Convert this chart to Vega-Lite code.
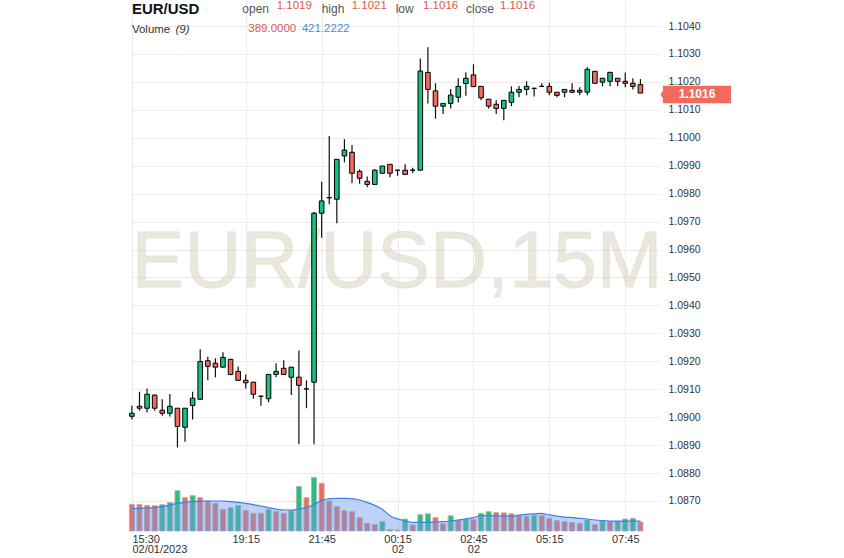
{
"$schema":"https://vega.github.io/schema/vega-lite/v6.json",
"width":530,"height":531,"autosize":"none",
"padding":{"left":130,"top":0,"right":184,"bottom":27},
"background":"white",
"config":{"view":{"stroke":null},"font":"Liberation Sans","axis":{"labelOverlap":false}},
"datasets":{"candles":[
{"t":"2023-02-01T15:30:00Z","o":1.09003,"h":1.09041,"l":1.08992,"c":1.09014,"v":1147,"vd":"down","ma":960},
{"t":"2023-02-01T15:45:00Z","o":1.09039,"h":1.09091,"l":1.09023,"c":1.09032,"v":1147,"vd":"down","ma":974},
{"t":"2023-02-01T16:00:00Z","o":1.09032,"h":1.09103,"l":1.09017,"c":1.09082,"v":1103,"vd":"down","ma":989},
{"t":"2023-02-01T16:15:00Z","o":1.09079,"h":1.09081,"l":1.09023,"c":1.09032,"v":1089,"vd":"down","ma":1003},
{"t":"2023-02-01T16:30:00Z","o":1.09025,"h":1.09064,"l":1.09005,"c":1.09014,"v":1132,"vd":"up","ma":1046},
{"t":"2023-02-01T16:45:00Z","o":1.09014,"h":1.09083,"l":1.09002,"c":1.09039,"v":1218,"vd":"up","ma":1118},
{"t":"2023-02-01T17:00:00Z","o":1.09032,"h":1.09033,"l":1.08892,"c":1.08967,"v":1734,"vd":"up","ma":1189},
{"t":"2023-02-01T17:15:00Z","o":1.08964,"h":1.09033,"l":1.08912,"c":1.09032,"v":1433,"vd":"down","ma":1232},
{"t":"2023-02-01T17:30:00Z","o":1.09042,"h":1.09091,"l":1.08992,"c":1.09068,"v":1519,"vd":"up","ma":1261},
{"t":"2023-02-01T17:45:00Z","o":1.09064,"h":1.09243,"l":1.09063,"c":1.09199,"v":1433,"vd":"down","ma":1275},
{"t":"2023-02-01T18:00:00Z","o":1.09202,"h":1.09216,"l":1.09132,"c":1.09182,"v":1290,"vd":"down","ma":1290},
{"t":"2023-02-01T18:15:00Z","o":1.09193,"h":1.09211,"l":1.09143,"c":1.09179,"v":1190,"vd":"down","ma":1290},
{"t":"2023-02-01T18:30:00Z","o":1.09179,"h":1.09232,"l":1.09178,"c":1.09214,"v":931,"vd":"down","ma":1290},
{"t":"2023-02-01T18:45:00Z","o":1.09207,"h":1.09209,"l":1.0915,"c":1.09153,"v":1003,"vd":"up","ma":1261},
{"t":"2023-02-01T19:00:00Z","o":1.09164,"h":1.09181,"l":1.0913,"c":1.09132,"v":1089,"vd":"up","ma":1232},
{"t":"2023-02-01T19:15:00Z","o":1.09132,"h":1.09153,"l":1.09103,"c":1.09123,"v":874,"vd":"down","ma":1189},
{"t":"2023-02-01T19:30:00Z","o":1.09125,"h":1.09127,"l":1.09066,"c":1.09082,"v":760,"vd":"down","ma":1132},
{"t":"2023-02-01T19:45:00Z","o":1.09075,"h":1.09076,"l":1.09041,"c":1.09075,"v":760,"vd":"down","ma":1075},
{"t":"2023-02-01T20:00:00Z","o":1.09066,"h":1.09155,"l":1.09053,"c":1.09153,"v":931,"vd":"up","ma":1003},
{"t":"2023-02-01T20:15:00Z","o":1.09153,"h":1.09193,"l":1.09143,"c":1.09164,"v":845,"vd":"down","ma":946},
{"t":"2023-02-01T20:30:00Z","o":1.09175,"h":1.09204,"l":1.09152,"c":1.09153,"v":760,"vd":"down","ma":903},
{"t":"2023-02-01T20:45:00Z","o":1.09143,"h":1.0918,"l":1.09079,"c":1.09179,"v":874,"vd":"up","ma":903},
{"t":"2023-02-01T21:00:00Z","o":1.09143,"h":1.09239,"l":1.08903,"c":1.09114,"v":1920,"vd":"up","ma":946},
{"t":"2023-02-01T21:15:00Z","o":1.09101,"h":1.09132,"l":1.09032,"c":1.09101,"v":1433,"vd":"down","ma":1003},
{"t":"2023-02-01T21:30:00Z","o":1.09125,"h":1.09735,"l":1.08903,"c":1.0973,"v":2307,"vd":"up","ma":1146},
{"t":"2023-02-01T21:45:00Z","o":1.0973,"h":1.09843,"l":1.09642,"c":1.09774,"v":2049,"vd":"down","ma":1304},
{"t":"2023-02-01T22:00:00Z","o":1.09785,"h":1.10006,"l":1.09762,"c":1.09786,"v":1290,"vd":"down","ma":1390},
{"t":"2023-02-01T22:15:00Z","o":1.0978,"h":1.09923,"l":1.09694,"c":1.09923,"v":1046,"vd":"down","ma":1404},
{"t":"2023-02-01T22:30:00Z","o":1.09935,"h":1.09995,"l":1.09912,"c":1.09956,"v":874,"vd":"down","ma":1404},
{"t":"2023-02-01T22:45:00Z","o":1.09948,"h":1.09974,"l":1.09837,"c":1.09873,"v":831,"vd":"down","ma":1390},
{"t":"2023-02-01T23:00:00Z","o":1.0988,"h":1.09887,"l":1.09835,"c":1.09855,"v":573,"vd":"down","ma":1333},
{"t":"2023-02-01T23:15:00Z","o":1.09844,"h":1.09861,"l":1.09823,"c":1.09833,"v":330,"vd":"down","ma":1232},
{"t":"2023-02-01T23:30:00Z","o":1.09833,"h":1.09887,"l":1.09833,"c":1.09884,"v":275,"vd":"down","ma":1100},
{"t":"2023-02-01T23:45:00Z","o":1.09873,"h":1.09899,"l":1.09873,"c":1.09899,"v":401,"vd":"up","ma":930},
{"t":"2023-02-02T00:00:00Z","o":1.09905,"h":1.09905,"l":1.09859,"c":1.09873,"v":60,"vd":"down","ma":660},
{"t":"2023-02-02T00:15:00Z","o":1.09884,"h":1.09884,"l":1.09864,"c":1.09884,"v":45,"vd":"down","ma":520},
{"t":"2023-02-02T00:30:00Z","o":1.09884,"h":1.09905,"l":1.09869,"c":1.09869,"v":516,"vd":"up","ma":430},
{"t":"2023-02-02T00:45:00Z","o":1.09884,"h":1.09893,"l":1.09873,"c":1.09884,"v":258,"vd":"down","ma":373},
{"t":"2023-02-02T01:00:00Z","o":1.09884,"h":1.10284,"l":1.09883,"c":1.10239,"v":700,"vd":"up","ma":373},
{"t":"2023-02-02T01:15:00Z","o":1.10234,"h":1.10324,"l":1.10123,"c":1.10173,"v":740,"vd":"up","ma":373},
{"t":"2023-02-02T01:30:00Z","o":1.10168,"h":1.10195,"l":1.10068,"c":1.10113,"v":573,"vd":"down","ma":387},
{"t":"2023-02-02T01:45:00Z","o":1.10113,"h":1.10124,"l":1.10085,"c":1.10123,"v":308,"vd":"down","ma":401},
{"t":"2023-02-02T02:00:00Z","o":1.10123,"h":1.10175,"l":1.10105,"c":1.10153,"v":652,"vd":"up","ma":430},
{"t":"2023-02-02T02:15:00Z","o":1.10145,"h":1.10213,"l":1.10126,"c":1.10184,"v":466,"vd":"down","ma":473},
{"t":"2023-02-02T02:30:00Z","o":1.10194,"h":1.10234,"l":1.1015,"c":1.10213,"v":516,"vd":"up","ma":516},
{"t":"2023-02-02T02:45:00Z","o":1.10225,"h":1.10263,"l":1.10183,"c":1.10183,"v":487,"vd":"down","ma":573},
{"t":"2023-02-02T03:00:00Z","o":1.10184,"h":1.10185,"l":1.10134,"c":1.10143,"v":760,"vd":"up","ma":659},
{"t":"2023-02-02T03:15:00Z","o":1.10138,"h":1.10139,"l":1.10105,"c":1.10113,"v":831,"vd":"up","ma":660},
{"t":"2023-02-02T03:30:00Z","o":1.1012,"h":1.10134,"l":1.10085,"c":1.10105,"v":788,"vd":"down","ma":650},
{"t":"2023-02-02T03:45:00Z","o":1.10105,"h":1.10134,"l":1.10063,"c":1.10134,"v":780,"vd":"down","ma":640},
{"t":"2023-02-02T04:00:00Z","o":1.10127,"h":1.10184,"l":1.10113,"c":1.10163,"v":740,"vd":"down","ma":640},
{"t":"2023-02-02T04:15:00Z","o":1.10163,"h":1.10185,"l":1.10145,"c":1.10173,"v":659,"vd":"down","ma":680},
{"t":"2023-02-02T04:30:00Z","o":1.10173,"h":1.10202,"l":1.10152,"c":1.10184,"v":616,"vd":"down","ma":717},
{"t":"2023-02-02T04:45:00Z","o":1.10177,"h":1.10178,"l":1.10148,"c":1.10177,"v":680,"vd":"up","ma":740},
{"t":"2023-02-02T05:00:00Z","o":1.10184,"h":1.10195,"l":1.10183,"c":1.10184,"v":659,"vd":"down","ma":760},
{"t":"2023-02-02T05:15:00Z","o":1.10184,"h":1.10197,"l":1.10152,"c":1.10163,"v":545,"vd":"down","ma":690},
{"t":"2023-02-02T05:30:00Z","o":1.10163,"h":1.10163,"l":1.10145,"c":1.10152,"v":444,"vd":"down","ma":645},
{"t":"2023-02-02T05:45:00Z","o":1.10163,"h":1.10173,"l":1.10145,"c":1.10173,"v":401,"vd":"down","ma":600},
{"t":"2023-02-02T06:00:00Z","o":1.1017,"h":1.10195,"l":1.10159,"c":1.10163,"v":358,"vd":"down","ma":573},
{"t":"2023-02-02T06:15:00Z","o":1.10163,"h":1.10181,"l":1.10152,"c":1.1017,"v":330,"vd":"down","ma":545},
{"t":"2023-02-02T06:30:00Z","o":1.10163,"h":1.10252,"l":1.10152,"c":1.10245,"v":473,"vd":"up","ma":516},
{"t":"2023-02-02T06:45:00Z","o":1.10238,"h":1.10239,"l":1.10195,"c":1.10195,"v":287,"vd":"down","ma":473},
{"t":"2023-02-02T07:00:00Z","o":1.10199,"h":1.10213,"l":1.10184,"c":1.10213,"v":430,"vd":"up","ma":445},
{"t":"2023-02-02T07:15:00Z","o":1.10202,"h":1.10236,"l":1.10184,"c":1.10234,"v":401,"vd":"down","ma":430},
{"t":"2023-02-02T07:30:00Z","o":1.10213,"h":1.10214,"l":1.10184,"c":1.10202,"v":410,"vd":"up","ma":425},
{"t":"2023-02-02T07:45:00Z","o":1.10202,"h":1.10234,"l":1.10181,"c":1.10195,"v":516,"vd":"up","ma":423},
{"t":"2023-02-02T08:00:00Z","o":1.10195,"h":1.10213,"l":1.10173,"c":1.10184,"v":545,"vd":"up","ma":421},
{"t":"2023-02-02T08:15:00Z","o":1.1019,"h":1.1021,"l":1.1016,"c":1.1016,"v":389,"vd":"down","ma":421.2222}
]},
"layer":[
{"data":{"name":"candles"},
 "layer":[
  {"mark":{"type":"bar","size":5,"stroke":"#b3b3b3","strokeWidth":1},
   "encoding":{
    "x":{"field":"t","type":"temporal","scale":{"type":"utc","padding":0,"domain":[{"year":2023,"month":2,"date":1,"hours":15,"minutes":26,"seconds":15,"utc":true},{"year":2023,"month":2,"date":2,"hours":8,"minutes":53,"seconds":40,"utc":true}]}},
    "y":{"field":"v","type":"quantitative","scale":{"domain":[0,22833],"nice":false,"padding":0},"axis":null},
    "fill":{"field":"vd","type":"nominal","scale":{"domain":["up","down"],"range":["#22c27c","#f06a5e"]},"legend":null}}},
  {"mark":{"type":"area","color":"#6d9be8","fillOpacity":0.45,"interpolate":"monotone","line":{"color":"#3f7fe6","strokeWidth":1.2}},
   "encoding":{
    "x":{"field":"t","type":"temporal","scale":{"type":"utc","padding":0,"domain":[{"year":2023,"month":2,"date":1,"hours":15,"minutes":26,"seconds":15,"utc":true},{"year":2023,"month":2,"date":2,"hours":8,"minutes":53,"seconds":40,"utc":true}]}},
    "y":{"field":"ma","type":"quantitative","scale":{"domain":[0,22833],"nice":false,"padding":0},"axis":null}}}
 ]},
{"layer":[
  {"data":{"values":[{}]},
   "mark":{"type":"text","text":"EUR/USD,15M","fontSize":79,"align":"center","baseline":"alphabetic","color":"#d6ccb5","opacity":0.45,"stroke":"#c9bfa6","strokeWidth":0.8},
   "encoding":{
    "x":{"datum":{"year":2023,"month":2,"date":2,"hours":0,"minutes":14,"utc":true},"type":"temporal","scale":{"type":"utc","padding":0,"domain":[{"year":2023,"month":2,"date":1,"hours":15,"minutes":26,"seconds":15,"utc":true},{"year":2023,"month":2,"date":2,"hours":8,"minutes":53,"seconds":40,"utc":true}]}},
    "y":{"datum":1.094659,"type":"quantitative","scale":{"domain":[1.085926,1.104931],"zero":false,"nice":false,"padding":0}}}},
  {"data":{"name":"candles"},
   "mark":{"type":"rule","color":"#111111","strokeWidth":1.2},
   "encoding":{
    "x":{"field":"t","type":"temporal","scale":{"type":"utc","padding":0,"domain":[{"year":2023,"month":2,"date":1,"hours":15,"minutes":26,"seconds":15,"utc":true},{"year":2023,"month":2,"date":2,"hours":8,"minutes":53,"seconds":40,"utc":true}]}},
    "y":{"field":"l","type":"quantitative","scale":{"domain":[1.085926,1.104931],"zero":false,"nice":false,"padding":0}},
    "y2":{"field":"h"}}},
  {"data":{"name":"candles"},
   "mark":{"type":"bar","size":4.6,"stroke":"#000000","strokeWidth":1},
   "encoding":{
    "x":{"field":"t","type":"temporal","scale":{"type":"utc","padding":0,"domain":[{"year":2023,"month":2,"date":1,"hours":15,"minutes":26,"seconds":15,"utc":true},{"year":2023,"month":2,"date":2,"hours":8,"minutes":53,"seconds":40,"utc":true}]},
     "axis":{"title":null,"tickCount":20,"values":[{"year":2023,"month":2,"date":1,"hours":15,"minutes":30,"utc":true},{"year":2023,"month":2,"date":1,"hours":19,"minutes":15,"utc":true},{"year":2023,"month":2,"date":1,"hours":21,"minutes":45,"utc":true},{"year":2023,"month":2,"date":2,"hours":0,"minutes":15,"utc":true},{"year":2023,"month":2,"date":2,"hours":2,"minutes":45,"utc":true},{"year":2023,"month":2,"date":2,"hours":5,"minutes":15,"utc":true},{"year":2023,"month":2,"date":2,"hours":7,"minutes":45,"utc":true}],
      "labelExpr":"[utcFormat(datum.value, '%H:%M'), utchours(datum.value) == 15 ? '02/01/2023' : (utchours(datum.value) < 4 ? '02' : '')]",
      "grid":true,"gridColor":"#ebebeb","ticks":false,"domain":false,"labelPadding":2,"labelFontSize":11,"labelColor":"#333333","labelFont":"Liberation Sans","labelLineHeight":10.5,"labelFlush":5,"labelOverlap":false,"labelBaseline":"top"}},
    "y":{"field":"o","type":"quantitative","scale":{"domain":[1.085926,1.104931],"zero":false,"nice":false,"padding":0},
     "axis":{"title":null,"orient":"right","tickCount":40,"values":[1.087,1.088,1.089,1.09,1.091,1.092,1.093,1.094,1.095,1.096,1.097,1.098,1.099,1.1,1.101,1.102,1.103,1.104],"format":".4f","grid":true,"gridColor":"#ebebeb","ticks":false,"domain":false,"labelPadding":8,"labelFontSize":10.5,"labelColor":"#333333","labelFont":"Liberation Sans","labelOverlap":false,"labelBound":false}},
    "y2":{"field":"c"},
    "fill":{"condition":{"test":"datum.c >= datum.o","value":"#19c27c"},"value":"#f26b5e"}}},
  {"data":{"values":[{}]},
   "mark":{"type":"point","shape":"M-0.944,-0.242L0.944,-0.242L0.944,0.242L-0.944,0.242L-0.944,0.11L-1.014,0L-0.944,-0.11Z","size":5184,"filled":true,"fill":"#f36a5d","opacity":1,"strokeWidth":0},
   "encoding":{
    "x":{"datum":{"year":2023,"month":2,"date":2,"hours":10,"minutes":6,"seconds":48,"utc":true},"type":"temporal","scale":{"type":"utc","padding":0,"domain":[{"year":2023,"month":2,"date":1,"hours":15,"minutes":26,"seconds":15,"utc":true},{"year":2023,"month":2,"date":2,"hours":8,"minutes":53,"seconds":40,"utc":true}]}},
    "y":{"datum":1.10155,"type":"quantitative","scale":{"domain":[1.085926,1.104931],"zero":false,"nice":false,"padding":0}}}},
  {"data":{"values":[{}]},
   "mark":{"type":"text","text":"1.1016","fontSize":12,"fontWeight":"bold","color":"#ffffff","align":"center","baseline":"middle"},
   "encoding":{
    "x":{"datum":{"year":2023,"month":2,"date":2,"hours":10,"minutes":6,"seconds":48,"utc":true},"type":"temporal","scale":{"type":"utc","padding":0,"domain":[{"year":2023,"month":2,"date":1,"hours":15,"minutes":26,"seconds":15,"utc":true},{"year":2023,"month":2,"date":2,"hours":8,"minutes":53,"seconds":40,"utc":true}]}},
    "y":{"datum":1.10155,"type":"quantitative","scale":{"domain":[1.085926,1.104931],"zero":false,"nice":false,"padding":0}}}},
  {"data":{"values":[{}]},
   "mark":{"type":"text","text":"EUR/USD","fontSize":15,"fontWeight":"bold","color":"#111111","align":"left","baseline":"alphabetic"},
   "encoding":{
    "x":{"datum":{"year":2023,"month":2,"date":1,"hours":15,"minutes":30,"utc":true},"type":"temporal","scale":{"type":"utc","padding":0,"domain":[{"year":2023,"month":2,"date":1,"hours":15,"minutes":26,"seconds":15,"utc":true},{"year":2023,"month":2,"date":2,"hours":8,"minutes":53,"seconds":40,"utc":true}]}},
    "y":{"datum":1.104447,"type":"quantitative","scale":{"domain":[1.085926,1.104931],"zero":false,"nice":false,"padding":0}}}},
  {"data":{"values":[{}]},
   "mark":{"type":"text","text":"Volume","fontSize":11.5,"color":"#333333","align":"left","baseline":"alphabetic"},
   "encoding":{
    "x":{"datum":{"year":2023,"month":2,"date":1,"hours":15,"minutes":30,"utc":true},"type":"temporal","scale":{"type":"utc","padding":0,"domain":[{"year":2023,"month":2,"date":1,"hours":15,"minutes":26,"seconds":15,"utc":true},{"year":2023,"month":2,"date":2,"hours":8,"minutes":53,"seconds":40,"utc":true}]}},
    "y":{"datum":1.103739,"type":"quantitative","scale":{"domain":[1.085926,1.104931],"zero":false,"nice":false,"padding":0}}}},
  {"data":{"values":[{}]},
   "mark":{"type":"text","text":"(9)","fontSize":11.5,"fontStyle":"italic","color":"#333333","align":"left","baseline":"alphabetic"},
   "encoding":{
    "x":{"datum":{"year":2023,"month":2,"date":1,"hours":16,"minutes":56,"seconds":10,"utc":true},"type":"temporal","scale":{"type":"utc","padding":0,"domain":[{"year":2023,"month":2,"date":1,"hours":15,"minutes":26,"seconds":15,"utc":true},{"year":2023,"month":2,"date":2,"hours":8,"minutes":53,"seconds":40,"utc":true}]}},
    "y":{"datum":1.103739,"type":"quantitative","scale":{"domain":[1.085926,1.104931],"zero":false,"nice":false,"padding":0}}}},
  {"data":{"values":[{}]},
   "mark":{"type":"text","text":"open","fontSize":12,"color":"#555555","align":"left","baseline":"alphabetic"},
   "encoding":{
    "x":{"datum":{"year":2023,"month":2,"date":1,"hours":19,"minutes":8,"seconds":12,"utc":true},"type":"temporal","scale":{"type":"utc","padding":0,"domain":[{"year":2023,"month":2,"date":1,"hours":15,"minutes":26,"seconds":15,"utc":true},{"year":2023,"month":2,"date":2,"hours":8,"minutes":53,"seconds":40,"utc":true}]}},
    "y":{"datum":1.104483,"type":"quantitative","scale":{"domain":[1.085926,1.104931],"zero":false,"nice":false,"padding":0}}}},
  {"data":{"values":[{}]},
   "mark":{"type":"text","text":"1.1019","fontSize":11.5,"color":"#e0574d","align":"left","baseline":"alphabetic"},
   "encoding":{
    "x":{"datum":{"year":2023,"month":2,"date":1,"hours":20,"minutes":16,"seconds":10,"utc":true},"type":"temporal","scale":{"type":"utc","padding":0,"domain":[{"year":2023,"month":2,"date":1,"hours":15,"minutes":26,"seconds":15,"utc":true},{"year":2023,"month":2,"date":2,"hours":8,"minutes":53,"seconds":40,"utc":true}]}},
    "y":{"datum":1.104598,"type":"quantitative","scale":{"domain":[1.085926,1.104931],"zero":false,"nice":false,"padding":0}}}},
  {"data":{"values":[{}]},
   "mark":{"type":"text","text":"high","fontSize":12,"color":"#555555","align":"left","baseline":"alphabetic"},
   "encoding":{
    "x":{"datum":{"year":2023,"month":2,"date":1,"hours":21,"minutes":45,"seconds":6,"utc":true},"type":"temporal","scale":{"type":"utc","padding":0,"domain":[{"year":2023,"month":2,"date":1,"hours":15,"minutes":26,"seconds":15,"utc":true},{"year":2023,"month":2,"date":2,"hours":8,"minutes":53,"seconds":40,"utc":true}]}},
    "y":{"datum":1.104483,"type":"quantitative","scale":{"domain":[1.085926,1.104931],"zero":false,"nice":false,"padding":0}}}},
  {"data":{"values":[{}]},
   "mark":{"type":"text","text":"1.1021","fontSize":11.5,"color":"#e0574d","align":"left","baseline":"alphabetic"},
   "encoding":{
    "x":{"datum":{"year":2023,"month":2,"date":1,"hours":22,"minutes":44,"seconds":24,"utc":true},"type":"temporal","scale":{"type":"utc","padding":0,"domain":[{"year":2023,"month":2,"date":1,"hours":15,"minutes":26,"seconds":15,"utc":true},{"year":2023,"month":2,"date":2,"hours":8,"minutes":53,"seconds":40,"utc":true}]}},
    "y":{"datum":1.104598,"type":"quantitative","scale":{"domain":[1.085926,1.104931],"zero":false,"nice":false,"padding":0}}}},
  {"data":{"values":[{}]},
   "mark":{"type":"text","text":"low","fontSize":12,"color":"#555555","align":"left","baseline":"alphabetic"},
   "encoding":{
    "x":{"datum":{"year":2023,"month":2,"date":2,"hours":0,"minutes":11,"seconds":20,"utc":true},"type":"temporal","scale":{"type":"utc","padding":0,"domain":[{"year":2023,"month":2,"date":1,"hours":15,"minutes":26,"seconds":15,"utc":true},{"year":2023,"month":2,"date":2,"hours":8,"minutes":53,"seconds":40,"utc":true}]}},
    "y":{"datum":1.104483,"type":"quantitative","scale":{"domain":[1.085926,1.104931],"zero":false,"nice":false,"padding":0}}}},
  {"data":{"values":[{}]},
   "mark":{"type":"text","text":"1.1016","fontSize":11.5,"color":"#e0574d","align":"left","baseline":"alphabetic"},
   "encoding":{
    "x":{"datum":{"year":2023,"month":2,"date":2,"hours":1,"minutes":5,"seconds":18,"utc":true},"type":"temporal","scale":{"type":"utc","padding":0,"domain":[{"year":2023,"month":2,"date":1,"hours":15,"minutes":26,"seconds":15,"utc":true},{"year":2023,"month":2,"date":2,"hours":8,"minutes":53,"seconds":40,"utc":true}]}},
    "y":{"datum":1.104598,"type":"quantitative","scale":{"domain":[1.085926,1.104931],"zero":false,"nice":false,"padding":0}}}},
  {"data":{"values":[{}]},
   "mark":{"type":"text","text":"close","fontSize":12,"color":"#555555","align":"left","baseline":"alphabetic"},
   "encoding":{
    "x":{"datum":{"year":2023,"month":2,"date":2,"hours":2,"minutes":30,"seconds":18,"utc":true},"type":"temporal","scale":{"type":"utc","padding":0,"domain":[{"year":2023,"month":2,"date":1,"hours":15,"minutes":26,"seconds":15,"utc":true},{"year":2023,"month":2,"date":2,"hours":8,"minutes":53,"seconds":40,"utc":true}]}},
    "y":{"datum":1.104483,"type":"quantitative","scale":{"domain":[1.085926,1.104931],"zero":false,"nice":false,"padding":0}}}},
  {"data":{"values":[{}]},
   "mark":{"type":"text","text":"1.1016","fontSize":11.5,"color":"#e0574d","align":"left","baseline":"alphabetic"},
   "encoding":{
    "x":{"datum":{"year":2023,"month":2,"date":2,"hours":3,"minutes":37,"seconds":30,"utc":true},"type":"temporal","scale":{"type":"utc","padding":0,"domain":[{"year":2023,"month":2,"date":1,"hours":15,"minutes":26,"seconds":15,"utc":true},{"year":2023,"month":2,"date":2,"hours":8,"minutes":53,"seconds":40,"utc":true}]}},
    "y":{"datum":1.104598,"type":"quantitative","scale":{"domain":[1.085926,1.104931],"zero":false,"nice":false,"padding":0}}}},
  {"data":{"values":[{}]},
   "mark":{"type":"text","text":"389.0000","fontSize":11.5,"color":"#e0574d","align":"left","baseline":"alphabetic"},
   "encoding":{
    "x":{"datum":{"year":2023,"month":2,"date":1,"hours":19,"minutes":20,"utc":true},"type":"temporal","scale":{"type":"utc","padding":0,"domain":[{"year":2023,"month":2,"date":1,"hours":15,"minutes":26,"seconds":15,"utc":true},{"year":2023,"month":2,"date":2,"hours":8,"minutes":53,"seconds":40,"utc":true}]}},
    "y":{"datum":1.103796,"type":"quantitative","scale":{"domain":[1.085926,1.104931],"zero":false,"nice":false,"padding":0}}}},
  {"data":{"values":[{}]},
   "mark":{"type":"text","text":"421.2222","fontSize":11.5,"color":"#4a86e8","align":"left","baseline":"alphabetic"},
   "encoding":{
    "x":{"datum":{"year":2023,"month":2,"date":1,"hours":21,"minutes":5,"seconds":36,"utc":true},"type":"temporal","scale":{"type":"utc","padding":0,"domain":[{"year":2023,"month":2,"date":1,"hours":15,"minutes":26,"seconds":15,"utc":true},{"year":2023,"month":2,"date":2,"hours":8,"minutes":53,"seconds":40,"utc":true}]}},
    "y":{"datum":1.103796,"type":"quantitative","scale":{"domain":[1.085926,1.104931],"zero":false,"nice":false,"padding":0}}}}
 ]}
],
"resolve":{"scale":{"y":"independent"}}
}
